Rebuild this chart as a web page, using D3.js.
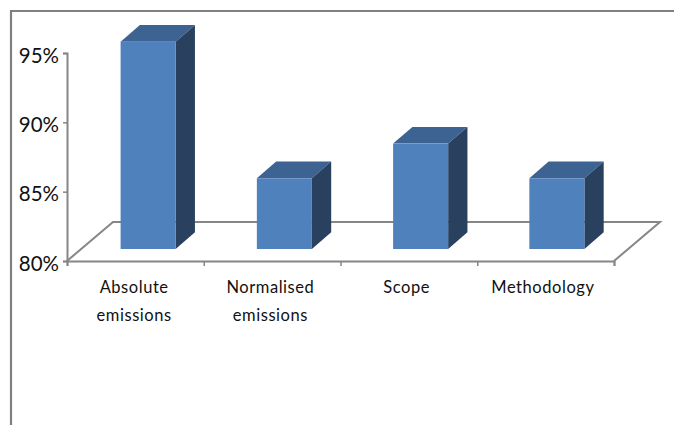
<!DOCTYPE html>
<html>
<head>
<meta charset="utf-8">
<script src="https://cdn.jsdelivr.net/npm/d3@7"></script>
<style>
html,body{margin:0;padding:0;background:#fff;overflow:hidden}
svg{display:block}
text{font-family:Lato,"Open Sans",sans-serif;fill:#111}
</style>
</head>
<body>
<svg id="c" width="674" height="425"></svg>
<script>
const categories = [["Absolute","emissions"],["Normalised","emissions"],["Scope"],["Methodology"]];
const values = [94.95, 85.1, 87.6, 85.1];
const yTicks = [80, 85, 90, 95];

const W = 674, H = 425;
const left = 67, right = 612, bottom = 261, top95 = 53;
const dx = 46, dy = 39;      // floor depth
const lift = 12, shift = 13; // bars stand in the middle of the floor
const sideX = 19.3, sideY = 16.7; // bar depth

const svg = d3.select("#c");
const x = d3.scaleBand().domain(categories.map((d,i)=>i)).range([left,right]).paddingInner(0.596).paddingOuter(0.298);
const y = d3.scaleLinear().domain([80,95]).range([bottom,top95]);
const grey = "#868686";

// frame
svg.append("path").attr("d",d3.line()([[11,425],[11,11],[674,11]]))
  .attr("fill","none").attr("stroke","#808080").attr("stroke-width",2.2);

// floor
svg.append("path").attr("d",d3.line()([[left,bottom],[left+dx,bottom-dy],[right+dx+2,bottom-dy],[right+2,bottom]]))
  .attr("fill","none").attr("stroke",grey).attr("stroke-width",2);

// axes
const yAxis = d3.axisLeft(y).tickValues(yTicks).tickSize(4).tickPadding(4).tickFormat(d=>d+"%");
const gy = svg.append("g").attr("transform",`translate(${left},0)`).call(yAxis);
gy.selectAll("text").attr("font-size",20.5).attr("dy","0.44em").attr("font-family","Lato");
const xAxis = d3.axisBottom(d3.scalePoint().domain(d3.range(5)).range([left,right+2])).tickSize(5).tickFormat("");
const gx = svg.append("g").attr("transform",`translate(0,${bottom})`).call(xAxis);
[gy,gx].forEach(g=>{
  g.selectAll("path.domain").attr("stroke",grey).attr("stroke-width",2);
  g.selectAll("line").attr("stroke",grey).attr("stroke-width",1.5);
});

// bars
const bars = svg.append("g").selectAll("g").data(values).join("g");
const fx = (d,i)=>x(i)+shift;
const base = y(80)-lift;
bars.append("path").attr("fill","#3c6391").attr("d",(d,i)=>{
  const a=fx(d,i), b=a+x.bandwidth(), t=y(d)-lift;
  return d3.line()([[a,t],[a+sideX,t-sideY],[b+sideX,t-sideY],[b,t]])+"Z";
});
bars.append("path").attr("fill","#29415f").attr("d",(d,i)=>{
  const b=fx(d,i)+x.bandwidth(), t=y(d)-lift;
  return d3.line()([[b,t],[b+sideX,t-sideY],[b+sideX,base-sideY],[b,base]])+"Z";
});
bars.append("rect").attr("fill","#4f81bd")
  .attr("x",fx).attr("y",d=>y(d)-lift)
  .attr("width",x.bandwidth()).attr("height",d=>base-(y(d)-lift));

// category labels
const lab = svg.append("g").selectAll("text").data(categories).join("text")
  .attr("text-anchor","middle").attr("font-size",16.5).attr("letter-spacing",0.55)
  .attr("x",(d,i)=>x(i)+x.bandwidth()/2-1).attr("y",293);
lab.selectAll("tspan").data(d=>d).join("tspan")
  .attr("x",function(){return d3.select(this.parentNode).attr("x");})
  .attr("dy",(d,i)=>i?28:0).text(d=>d);
</script>
</body>
</html>
